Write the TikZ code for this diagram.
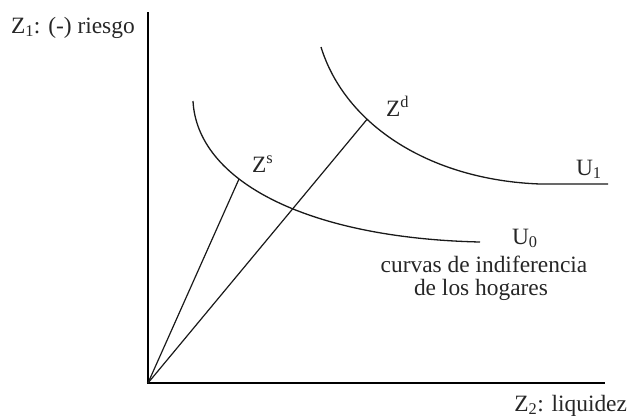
\documentclass[tikz,border=0pt]{standalone}
\usepackage{fontspec}
\setmainfont{Liberation Serif}
\usetikzlibrary{intersections,calc}
\begin{document}
\begin{tikzpicture}[x=1bp,y=-1bp,
  lbl/.style={inner sep=0pt,outer sep=0pt,font=\fontsize{23.5}{27}\selectfont,text=black!85},
  axis/.style={line width=2.6bp,black},
  curve/.style={line width=1.3bp,black!90},
  ray/.style={line width=1.2bp,black!90}]
\useasboundingbox (0,0) rectangle (635,419);
% axes
\coordinate (O) at (148,383);
\coordinate (ytop) at (148,12);
\coordinate (xend) at (605,383);
\draw[axis] (ytop) -- (148,384.2);
\draw[line width=2bp,black] (146.7,383) -- (xend);
% indifference curves
\draw[curve,name path=U0] (193,101) .. controls (197,180) and (305,238) .. (480,242);
\draw[curve,name path=U1] (321,47) .. controls (345,125) and (430,180) .. (540,184) -- (608,184);
% rays
\path[name path=r1] (O) -- ($(O)!1.4!(239,179)$);
\path[name path=r2] (O) -- ($(O)!1.4!(364,123)$);
\path[name intersections={of=r1 and U0,by=zs}];
\path[name intersections={of=r2 and U1,by=zd}];
\draw[ray] (O) -- (zs);
\draw[ray] (O) -- (zd);
% labels
\node[lbl,anchor=base west] (z1) at (11,33) {Z\textsubscript{1}: (-) riesgo};
\node[lbl,anchor=base east] (z2) at (627,411) {Z\textsubscript{2}: liquidez};
\node[lbl,anchor=base west] (zsl) at (252,172) {Z\textsuperscript{s}};
\node[lbl,anchor=base west] (zdl) at (386,116) {Z\textsuperscript{d}};
\node[lbl,anchor=base west] (u1) at (576,175) {U\textsubscript{1}};
\node[lbl,anchor=base west] (u0) at (512,244) {U\textsubscript{0}};
\node[lbl,anchor=base] (c1) at (484,272) {curvas de indiferencia};
\node[lbl,anchor=base] (c2) at (481,295) {de los hogares};
\end{tikzpicture}
\end{document}
